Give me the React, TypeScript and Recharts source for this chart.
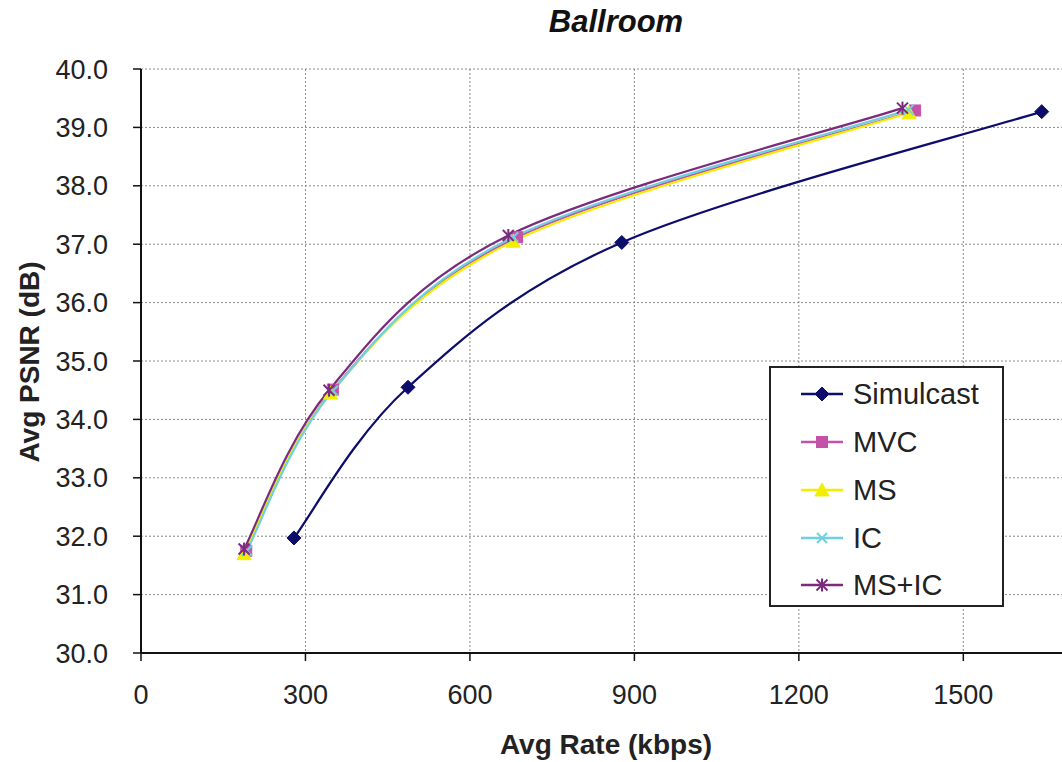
import React from 'react';
import { LineChart, Line, XAxis, YAxis, CartesianGrid } from 'recharts';

const seriesNames = ['Simulcast', 'MVC', 'MS', 'IC', 'MS+IC'];

const simulcastRate = [279, 487, 877, 1643];
const simulcastPsnr = [31.97, 34.55, 37.03, 39.27];
const mvcRate = [192, 350, 686, 1412];
const mvcPsnr = [31.75, 34.51, 37.12, 39.29];
const msRate = [188, 346, 679, 1401];
const msPsnr = [31.7, 34.45, 37.05, 39.25];
const icRate = [193, 350, 679, 1400];
const icPsnr = [31.75, 34.49, 37.12, 39.3];
const msicRate = [188, 343, 670, 1389];
const msicPsnr = [31.78, 34.5, 37.15, 39.33];

const xTicks = [0, 300, 600, 900, 1200, 1500];
const yTicks = [30, 31, 32, 33, 34, 35, 36, 37, 38, 39, 40];

const toPoints = (rate: number[], psnr: number[]) => rate.map((r, i) => ({ x: r, y: psnr[i] }));

const COLORS = ['#0d0d6b', '#c452a8', '#f2ee00', '#6fd0e0', '#7b2a7e'];
const FONT = '"Liberation Sans", Arial, sans-serif';

// Excel-like smoothed line (uniform Catmull-Rom as cubic Bezier)
const excelSmooth: any = (context: any) => {
  let pts: number[][] = [];
  return {
    areaStart() {},
    areaEnd() {},
    lineStart() {
      pts = [];
    },
    point(x: number, y: number) {
      pts.push([+x, +y]);
    },
    lineEnd() {
      const n = pts.length;
      if (!n) return;
      context.moveTo(pts[0][0], pts[0][1]);
      for (let i = 0; i < n - 1; i++) {
        const p0 = pts[i - 1] || pts[i];
        const p1 = pts[i];
        const p2 = pts[i + 1];
        const p3 = pts[i + 2] || p2;
        context.bezierCurveTo(
          p1[0] + (p2[0] - p0[0]) / 6,
          p1[1] + (p2[1] - p0[1]) / 6,
          p2[0] - (p3[0] - p1[0]) / 6,
          p2[1] - (p3[1] - p1[1]) / 6,
          p2[0],
          p2[1]
        );
      }
    },
  };
};

function Marker({ kind, cx, cy, color }: { kind: number; cx: number; cy: number; color: string }) {
  if (kind === 0) {
    const s = 7;
    return <polygon points={`${cx},${cy - s} ${cx + s},${cy} ${cx},${cy + s} ${cx - s},${cy}`} fill={color} stroke={color} />;
  }
  if (kind === 1) {
    const s = 5.5;
    return <rect x={cx - s} y={cy - s} width={2 * s} height={2 * s} fill={color} stroke={color} />;
  }
  if (kind === 2) {
    const s = 7;
    return <polygon points={`${cx},${cy - s} ${cx + s},${cy + s * 0.85} ${cx - s},${cy + s * 0.85}`} fill={color} stroke={color} />;
  }
  if (kind === 3) {
    const s = 5;
    return (
      <g stroke={color} strokeWidth={2}>
        <line x1={cx - s} y1={cy - s} x2={cx + s} y2={cy + s} />
        <line x1={cx - s} y1={cy + s} x2={cx + s} y2={cy - s} />
      </g>
    );
  }
  const s = 5.5;
  return (
    <g stroke={color} strokeWidth={2}>
      <line x1={cx - s} y1={cy - s} x2={cx + s} y2={cy + s} />
      <line x1={cx - s} y1={cy + s} x2={cx + s} y2={cy - s} />
      <line x1={cx} y1={cy - s - 1} x2={cx} y2={cy + s + 1} />
    </g>
  );
}

const seriesData = [
  toPoints(simulcastRate, simulcastPsnr),
  toPoints(mvcRate, mvcPsnr),
  toPoints(msRate, msPsnr),
  toPoints(icRate, icPsnr),
  toPoints(msicRate, msicPsnr),
];

export default function App() {
  return (
    <div style={{ position: 'absolute', left: 0, top: 0, width: 1062, height: 762, background: '#fff', fontFamily: FONT }}>
      <LineChart width={1062} height={762} margin={{ top: 69, right: 0, bottom: 79, left: 81 }}>
        <CartesianGrid stroke="#8a8a8a" strokeDasharray="2 2" strokeWidth={1} horizontalValues={yTicks} verticalValues={xTicks} />
        <XAxis
          type="number"
          dataKey="x"
          domain={[0, 1680]}
          ticks={xTicks}
          allowDataOverflow
          height={30}
          stroke="#111"
          strokeWidth={2}
          tickSize={8}
          tickMargin={24}
          tick={{ fontSize: 27, fill: '#222', fontFamily: FONT }}
          tickLine={{ stroke: '#111', strokeWidth: 1.5 }}
        />
        <YAxis
          type="number"
          dataKey="y"
          domain={[30, 40]}
          ticks={yTicks}
          width={60}
          stroke="#111"
          strokeWidth={2}
          tickSize={8}
          tickMargin={25}
          tickFormatter={(v: number) => v.toFixed(1)}
          tick={{ fontSize: 27, fill: '#222', fontFamily: FONT }}
          tickLine={{ stroke: '#111', strokeWidth: 1.5 }}
        />
        {seriesData.map((d, k) => (
          <Line
            key={seriesNames[k]}
            data={d}
            dataKey="y"
            name={seriesNames[k]}
            type={excelSmooth}
            stroke={COLORS[k]}
            strokeWidth={2.2}
            isAnimationActive={false}
            dot={(p: any) => (
              <g key={`${seriesNames[k]}-${p.index}`}>
                <Marker kind={k} cx={p.cx} cy={p.cy} color={COLORS[k]} />
              </g>
            )}
            activeDot={false}
          />
        ))}
      </LineChart>
      <div style={{ position: 'absolute', left: 0, top: 4, width: 1232, textAlign: 'center', fontSize: 31, fontWeight: 'bold', fontStyle: 'italic', color: '#111', lineHeight: '36px' }}>
        Ballroom
      </div>
      <div style={{ position: 'absolute', left: 406, top: 727, width: 400, textAlign: 'center', fontSize: 28, fontWeight: 'bold', color: '#222', lineHeight: '36px' }}>
        Avg Rate (kbps)
      </div>
      <div style={{ position: 'absolute', left: 30, top: 362, width: 0, height: 0 }}>
        <div style={{ position: 'absolute', left: -200, top: -18, width: 400, textAlign: 'center', fontSize: 28, fontWeight: 'bold', color: '#222', lineHeight: '36px', transform: 'rotate(-90deg)' }}>
          Avg PSNR (dB)
        </div>
      </div>
      <div style={{ position: 'absolute', left: 769, top: 366, width: 231, height: 237, border: '2px solid #222', background: '#fff' }}>
        {seriesNames.map((n, k) => (
          <div key={n} style={{ position: 'absolute', left: 0, top: [26, 74, 122, 170, 217][k] - 20, height: 40, display: 'flex', alignItems: 'center' }}>
            <svg width={82} height={40} style={{ display: 'block' }}>
              <line x1={30} y1={20} x2={72} y2={20} stroke={COLORS[k]} strokeWidth={2.5} />
              <Marker kind={k} cx={51} cy={20} color={COLORS[k]} />
            </svg>
            <span style={{ fontSize: 29, color: '#222', lineHeight: '40px' }}>{n}</span>
          </div>
        ))}
      </div>
    </div>
  );
}
